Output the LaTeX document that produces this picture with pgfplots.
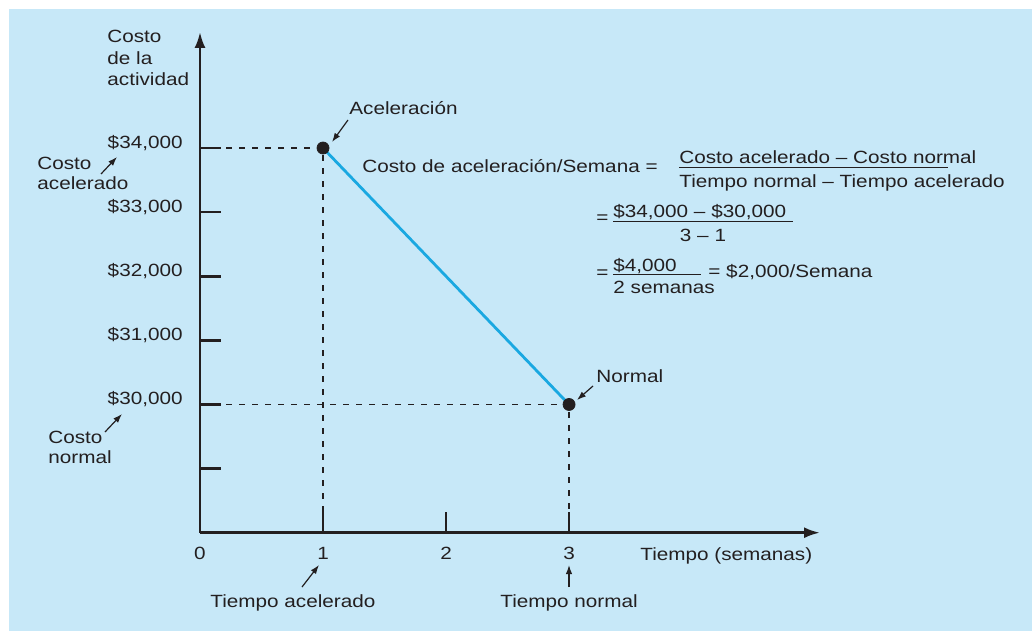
\documentclass[border=0pt]{standalone}
\usepackage{fontspec}
\setmainfont{Liberation Sans}[FakeStretch=1.17]
\usepackage{pgfplots}
\pgfplotsset{compat=1.18}
\usetikzlibrary{arrows.meta}
\definecolor{bgblue}{RGB}{199,232,248}
\definecolor{linecyan}{RGB}{26,168,225}
\definecolor{ink}{RGB}{35,31,32}
\newcommand{\lbl}{\fontsize{8.85}{10.75}\selectfont}

\begin{document}
\begin{tikzpicture}[
  px/.style={x=0.5pt,y=-0.5pt,shift={(-100pt,266.35pt)}},
  txt/.style={anchor=base west,inner sep=0pt,font=\lbl,text=ink},
  ann/.style={-{Latex[length=4.5pt,width=3.2pt]},line width=0.6pt,draw=ink},
]
% background panel (pixel grid of the reference)
\begin{scope}[px]
  \fill[white] (0,0) rectangle (1036,631);
  \fill[bgblue] (9,9) rectangle (1032,631);
\end{scope}

\begin{axis}[
  at={(0,0)}, anchor=south west,
  scale only axis, width=310pt, height=250.35pt,
  xmin=0, xmax=5.04, ymin=28000, ymax=35810,
  axis lines=left,
  axis line style={line width=1.35pt, draw=ink, -{Latex[length=8pt,width=5.5pt]}},
  tick align=inside,
  major tick length=10.5pt,
  tick style={line width=1.35pt, draw=ink},
  xtick={0,1,2,3}, xticklabels={0,1,2,3},
  ytick={29000,30000,...,34000},
  yticklabels={{},{\$30,000},{\$31,000},{\$32,000},{\$33,000},{\$34,000}},
  xticklabel style={anchor=base, inner sep=0pt, yshift=-13.5pt, font=\lbl, text=ink},
  yticklabel style={anchor=base east, inner sep=0pt, xshift=-8.5pt, font=\lbl, text=ink},
  scaled y ticks=false,
  clip=false,
]
  \addplot[ink, line width=0.65pt, dash pattern=on 3pt off 3.5pt] coordinates {(0,34000) (1,34000) (1,28000)};
  \addplot[ink, line width=0.65pt, dash pattern=on 3pt off 3.5pt] coordinates {(0,30000) (3,30000) (3,28000)};
  \addplot[linecyan, line width=1.4pt] coordinates {(1,34000) (3,30000)};
  \addplot[only marks, mark=*, mark size=3pt, ink] coordinates {(1,34000) (3,30000)};
\end{axis}

% labels and callouts
\begin{scope}[px]
  \node[txt] at (107,43) {Costo};
  \node[txt] at (107,64.5) {de la};
  \node[txt] at (107,86) {actividad};

  \node[txt] at (349,115) {Aceleración};
  \draw[ann] (348,120) -- (332,142);
  \node[txt] at (37,170) {Costo};
  \node[txt] at (37,190) {acelerado};
  \draw[ann] (101,174) -- (117,157);
  \node[txt] at (48,443) {Costo};
  \node[txt] at (48,463) {normal};
  \draw[ann] (105,432) -- (122,414);
  \node[txt] at (596,382) {Normal};
  \draw[ann] (593,386) -- (577,400);

  \node[txt] at (640,560) {Tiempo (semanas)};
  \node[txt] at (210,607) {Tiempo acelerado};
  \draw[ann] (302,587) -- (319,565);
  \node[txt] at (500,607) {Tiempo normal};
  \draw[ann] (569,587) -- (569,565);

  % formula
  \node[txt] at (362,172.5) {Costo de aceleración/Semana =};
  \node[txt] at (679,163.3) {Costo acelerado – Costo normal};
  \draw[ink, line width=0.5pt] (679,167.3) -- (948,167.3);
  \node[txt] at (679,188) {Tiempo normal – Tiempo acelerado};
  \node[txt] at (596,224) {=};
  \node[txt] at (613,217.3) {\$34,000 – \$30,000};
  \draw[ink, line width=0.5pt] (613,221.7) -- (793,221.7);
  \node[txt, anchor=base] at (703,241.7) {3 – 1};
  \node[txt] at (596,279) {=};
  \node[txt] at (613,271.7) {\$4,000};
  \draw[ink, line width=0.5pt] (613,274.3) -- (701,274.3);
  \node[txt] at (613,294) {2 semanas};
  \node[txt] at (708,278) {= \$2,000/Semana};
\end{scope}
\end{tikzpicture}
\end{document}
